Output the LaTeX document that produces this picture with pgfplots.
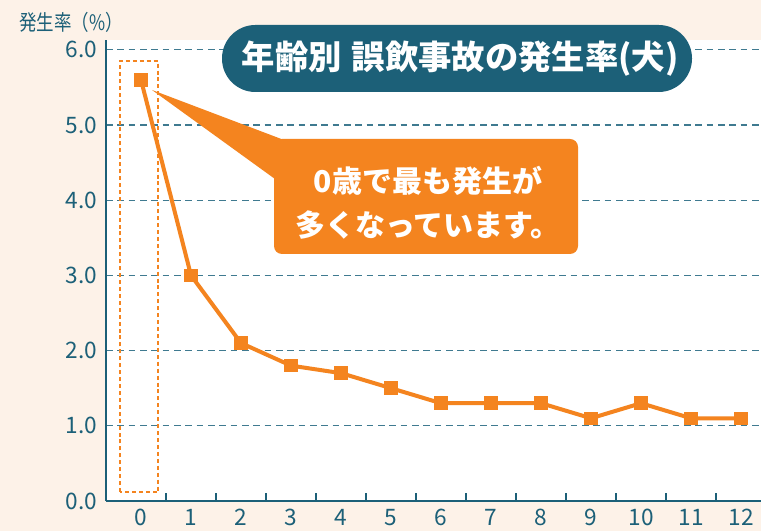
\documentclass[border=0pt]{standalone}
\usepackage{fontspec}
\setmainfont{Noto Sans CJK JP}
\usepackage{graphicx}
\usepackage{pgfplots}
\pgfplotsset{compat=1.18}
\definecolor{teal1}{HTML}{1C6078}
\definecolor{grid1}{HTML}{3F7A90}
\definecolor{org}{HTML}{F4841F}
\definecolor{peach}{HTML}{FDF2E8}

\begin{document}
\begin{tikzpicture}
\fill[peach] (0,0) rectangle (570.75pt,398.25pt);
\begin{axis}[
  at={(79.5pt,22.5pt)}, anchor=south west,
  scale only axis, width=491.25pt, height=345.75pt,
  xmin=-0.7, xmax=12.4, ymin=0, ymax=6.13,
  axis lines=left,
  axis line style={-, teal1, line width=2.2pt},
  axis background/.style={fill=white},
  xtick={0,...,12},
  minor xtick={0.5,1.5,...,11.5},
  ytick={0,1,...,6},
  major tick length=0pt, minor tick length=6pt, tick align=inside,
  minor tick style={teal1, line width=1.5pt},
  ymajorgrids,
  major grid style={grid1, line width=1pt, dash pattern=on 5pt off 3.5pt},
  /pgf/number format/assume math mode=true,
  ticklabel style={font=\fontsize{17}{17}\selectfont, text=teal1},
  yticklabel style={xshift=-3pt, /pgf/number format/fixed, /pgf/number format/precision=1, /pgf/number format/fixed zerofill},
  xticklabel style={yshift=-2.5pt},
  clip=false,
]
\draw[org, line width=1.6pt, dash pattern=on 3pt off 2.2pt] (axis cs:-0.42,0.12) rectangle (axis cs:0.34,5.85);
\addplot[org, line width=3pt, mark=square*, mark size=4.7pt, mark options={solid, fill=org, draw=org, line width=0pt}]
  coordinates {(0,5.6) (1,3.0) (2,2.1) (3,1.8) (4,1.7) (5,1.5) (6,1.3) (7,1.3) (8,1.3) (9,1.1) (10,1.3) (11,1.1) (12,1.1)};
\end{axis}
\begin{scope}[x=0.75pt, y=-0.75pt, shift={(0pt,398.25pt)}]
  % callout
  \fill[org, rounded corners=6pt] (274,139) rectangle (578,254);
  \fill[org] (152,90) -- (284,140) -- (275,179) -- cycle;
  \node[text=white, font=\bfseries\fontsize{22.5}{33}\selectfont, align=center] at (428,203) {0歳で最も発生が\\多くなっています。};
  % title
  \fill[teal1, rounded corners=25pt] (222,25) rectangle (692,92);
  \node[text=white, font=\bfseries\fontsize{25}{25}\selectfont] at (460,59) {年齢別\hspace{0.3em}誤飲事故の発生率(犬)};
  % y label
  \node[anchor=west, text=teal1, font=\fontsize{16}{16}\selectfont, inner sep=0pt] at (19,22) {\scalebox{0.82}[1]{発生率（\%）}};
\end{scope}
\pgfresetboundingbox
\useasboundingbox (0,0) rectangle (570.75pt,398.25pt);
\end{tikzpicture}
\end{document}
